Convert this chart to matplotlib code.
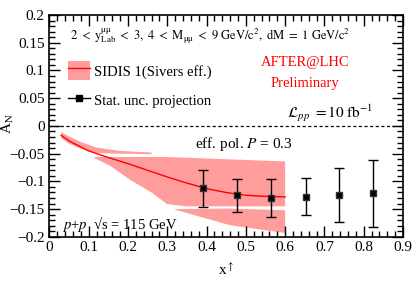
import matplotlib
matplotlib.use("Agg")
import matplotlib.pyplot as plt
from matplotlib.ticker import MultipleLocator, FuncFormatter
from matplotlib.lines import Line2D
from matplotlib.patches import Patch

plt.rcParams['font.family'] = ['Liberation Serif', 'DejaVu Serif']
plt.rcParams['mathtext.fontset'] = 'stix'

# projected stat. points
x_pts = [0.391, 0.478, 0.563, 0.652, 0.738, 0.824]
y_pts = [-0.1125, -0.125, -0.130, -0.1275, -0.125, -0.1215]
y_err = [0.033, 0.030, 0.034, 0.033, 0.049, 0.060]

# SIDIS 1 central curve
x_curve = [0.03, 0.05, 0.08, 0.1, 0.15, 0.2, 0.25, 0.3, 0.35, 0.4, 0.45, 0.5, 0.55, 0.6]
y_curve = [-0.017, -0.027, -0.038, -0.045, -0.057, -0.068, -0.080, -0.092, -0.103, -0.113,
           -0.120, -0.125, -0.127, -0.128]

# band pieces (as drawn in the original)
band_a_x = [0.03, 0.05, 0.08, 0.12, 0.18, 0.26, 0.26, 0.18, 0.12, 0.08, 0.05, 0.03]
band_a_y = [-0.011, -0.019, -0.029, -0.039, -0.045, -0.048, -0.051, -0.050, -0.049, -0.041, -0.032, -0.022]
band_b_x = [0.115, 0.3, 0.45, 0.6, 0.6, 0.35, 0.3, 0.26, 0.205, 0.155, 0.115]
band_b_y = [-0.056, -0.056, -0.060, -0.064, -0.145, -0.145, -0.141, -0.120, -0.097, -0.072, -0.058]
band_c_x = [0.32, 0.46, 0.6, 0.6, 0.46, 0.32]
band_c_y = [-0.150, -0.149, -0.152, -0.193, -0.179, -0.151]

band_col = '#ff9d9d'


def fmt(v, p):
    if abs(v) < 1e-9:
        return '0'
    return f'{v:g}'.replace('-', '\u2212')


fig = plt.figure(figsize=(4.15, 2.83), dpi=100)
ax = fig.add_axes([0.119, 0.163, 0.852, 0.784])

for bx, by in [(band_a_x, band_a_y), (band_b_x, band_b_y), (band_c_x, band_c_y)]:
    ax.fill(bx, by, color=band_col, lw=0)
ax.plot(x_curve, y_curve, color='red', lw=1.0)

ax.errorbar(x_pts, y_pts, yerr=y_err, fmt='s', color='black', ms=5, capsize=3.5,
            elinewidth=1.0, capthick=1.0, markeredgecolor='#333333')

ax.axhline(0, color='black', lw=0.9, ls=(0, (2.5, 2)))

ax.set_xlim(0, 0.9)
ax.set_ylim(-0.2, 0.2)
ax.xaxis.set_major_locator(MultipleLocator(0.1))
ax.xaxis.set_minor_locator(MultipleLocator(0.02))
ax.yaxis.set_major_locator(MultipleLocator(0.05))
ax.yaxis.set_minor_locator(MultipleLocator(0.01))
ax.xaxis.set_major_formatter(FuncFormatter(fmt))
ax.yaxis.set_major_formatter(FuncFormatter(fmt))
ax.tick_params(which='both', direction='in', top=True, right=True, labelsize=11, width=1)
ax.tick_params(which='major', length=8)
ax.tick_params(which='minor', length=4)
ax.tick_params(axis='x', pad=3)
for s in ax.spines.values():
    s.set_linewidth(1.2)

ax.set_ylabel(r'A$_{\mathrm{N}}$', fontsize=11)
ax.yaxis.set_label_coords(-0.094, 0.51)
ax.set_xlabel('x$^{\\uparrow}$', fontsize=11)
ax.xaxis.set_label_coords(0.5, -0.11)

ax.text(0.052, 0.157,
        r'$\mathrm{2\ <\ y^{\mu\mu}_{Lab}\ <\ 3,\ 4\ <\ M_{\mu\mu}\ <\ 9\ GeV/c^{2},\ dM\ =\ 1\ GeV/c^{2}}$',
        fontsize=9)
ax.text(0.823, 0.014, r'$\mathcal{L}_{pp}\ \mathrm{= 10\ fb^{-1}}$', fontsize=11, ha='right')
ax.text(0.65, 0.108, 'AFTER@LHC', color='red', fontsize=10.5, ha='center')
ax.text(0.65, 0.071, 'Preliminary', color='red', fontsize=10.5, ha='center')
ax.text(0.37, -0.04, r'eff. pol. $P$ = 0.3', fontsize=11)
ax.text(0.033, -0.185, r'$p$+$p$  √s = 115 GeV', fontsize=10.5)

h1 = (Patch(facecolor=band_col, lw=0), Line2D([], [], color='red', lw=1))
h2 = Line2D([], [], color='black', marker='s', ms=4, lw=1)
ax.legend([h1, h2], ['SIDIS 1(Sivers eff.)', 'Stat. unc. projection'], loc='upper left',
          bbox_to_anchor=(0.015, 0.85), frameon=False, fontsize=10.5, handlelength=1.5,
          handleheight=1.6, labelspacing=0.75, handletextpad=0.3)

fig.savefig('out.png', dpi=100)
